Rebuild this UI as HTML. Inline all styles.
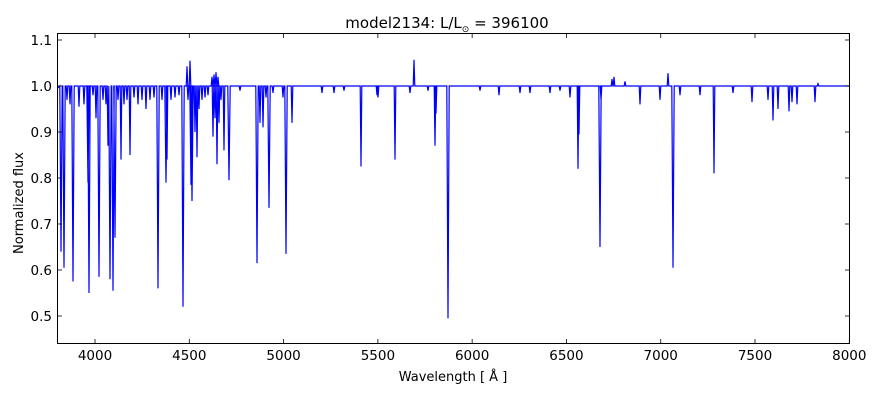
<!DOCTYPE html>
<html><head><meta charset="utf-8"><style>
body{margin:0;background:#fff;}
svg{display:block;font-family:"DejaVu Sans","Liberation Sans",sans-serif;}
</style></head><body>
<svg id="s" width="880" height="400" viewBox="0 0 880 400">
<rect width="880" height="400" fill="#fff"/>
<path id="spec" fill="none" stroke="#0000ff" stroke-width="1.2" d=""/>
<rect x="57.5" y="33.5" width="792" height="310" fill="none" stroke="#000" stroke-width="1"/>
<g id="ticks" stroke="#000" stroke-width="0.8"></g>
<g font-size="13.5" fill="#000" text-anchor="middle" id="xl"></g>
<g font-size="13.5" fill="#000" text-anchor="end" id="yl"></g>
<text x="453" y="381" font-size="13" text-anchor="middle">Wavelength [ Å ]</text>
<text transform="translate(23,203) rotate(-90)" font-size="13" text-anchor="middle">Normalized flux</text>
<text x="447" y="28" font-size="15" text-anchor="middle">model2134: L/L<tspan font-size="9" dy="4">⊙</tspan><tspan dy="-4"> = 396100</tspan></text>
</svg>
<script>
var Y=function(v){return 316-(v-0.5)*460;};
var X=function(w){return 57.3+(w-3800)*0.18857;};
var t='',xl='',yl='';
for(var w=4000;w<=8000;w+=500){var x=X(w);t+='<line x1="'+x+'" y1="343" x2="'+x+'" y2="339"/><line x1="'+x+'" y1="34" x2="'+x+'" y2="38"/>';xl+='<text x="'+x+'" y="360">'+w+'</text>';}
for(var v=5;v<=11;v++){var y=Y(v/10);t+='<line x1="58" y1="'+y+'" x2="62" y2="'+y+'"/><line x1="849" y1="'+y+'" x2="845" y2="'+y+'"/>';yl+='<text x="52" y="'+(y+5)+'">'+(v/10).toFixed(1)+'</text>';}
document.getElementById('ticks').innerHTML=t;
document.getElementById('xl').innerHTML=xl;
document.getElementById('yl').innerHTML=yl;
var d=[[61,0.64],[64,0.605],[67,0.97],[70,0.96],[73,0.575],[79,0.955],[84,0.96],[88,0.79],[89,0.55],[93,0.98],[96,0.93],[99,0.585],[103,0.97],[106,0.96],[108,0.87],[110,0.58],[113,0.555],[115,0.67],[118,0.97],[121,0.84],[124,0.96],[127,0.97],[130,0.85],[134,0.975],[138,0.96],[142,0.97],[146,0.95],[150,0.97],[154,0.975],[158,0.56],[162,0.97],[166,0.79],[167,0.84],[171,0.97],[175,0.975],[179,0.98],[183,0.52],[188,0.97],[191,0.785],[192,0.75],[195,0.9],[197,0.845],[199,0.95],[202,0.97],[205,0.975],[208,0.98],[213,0.89],[215,0.93],[217,0.83],[219,0.92],[221,0.97],[224,0.86],[229,0.795],[240,0.99],[257,0.615],[260,0.92],[263,0.91],[266,0.975],[269,0.735],[273,0.985],[283,0.975],[286,0.635],[292,0.92],[322,0.985],[334,0.985],[344,0.99],[361,0.825],[377,0.98],[378,0.975],[395,0.84],[410,0.985],[428,0.99],[435,0.87],[436,0.94],[448,0.495],[480,0.99],[499,0.98],[520,0.985],[530,0.985],[550,0.985],[560,0.99],[570,0.975],[578,0.82],[579,0.895],[600,0.65],[601,0.97],[640,0.96],[660,0.97],[673,0.605],[680,0.98],[700,0.98],[714,0.81],[733,0.985],[752,0.965],[768,0.97],[773,0.925],[778,0.95],[789,0.945],[792,0.965],[797,0.96],[815,0.965]];
var e=[[187,1.043],[190,1.055],[212,1.02],[214,1.025],[216,1.03],[218,1.02],[414,1.057],[612,1.015],[614,1.02],[668,1.028],[625,1.01],[818,1.005]];
var all=d.concat(e);
all.sort(function(a,b){return a[0]-b[0];});
var p='M57.5 '+Y(0.995);var base=Y(1.0);
all.forEach(function(a){var w=a[1]<0.8?1.2:0.8;p+=' L'+(a[0]-w)+' '+base+' L'+a[0]+' '+Y(a[1])+' L'+(a[0]+w)+' '+base;});
p+=' L849 '+base;
document.getElementById('spec').setAttribute('d',p);
</script>
</body></html>
